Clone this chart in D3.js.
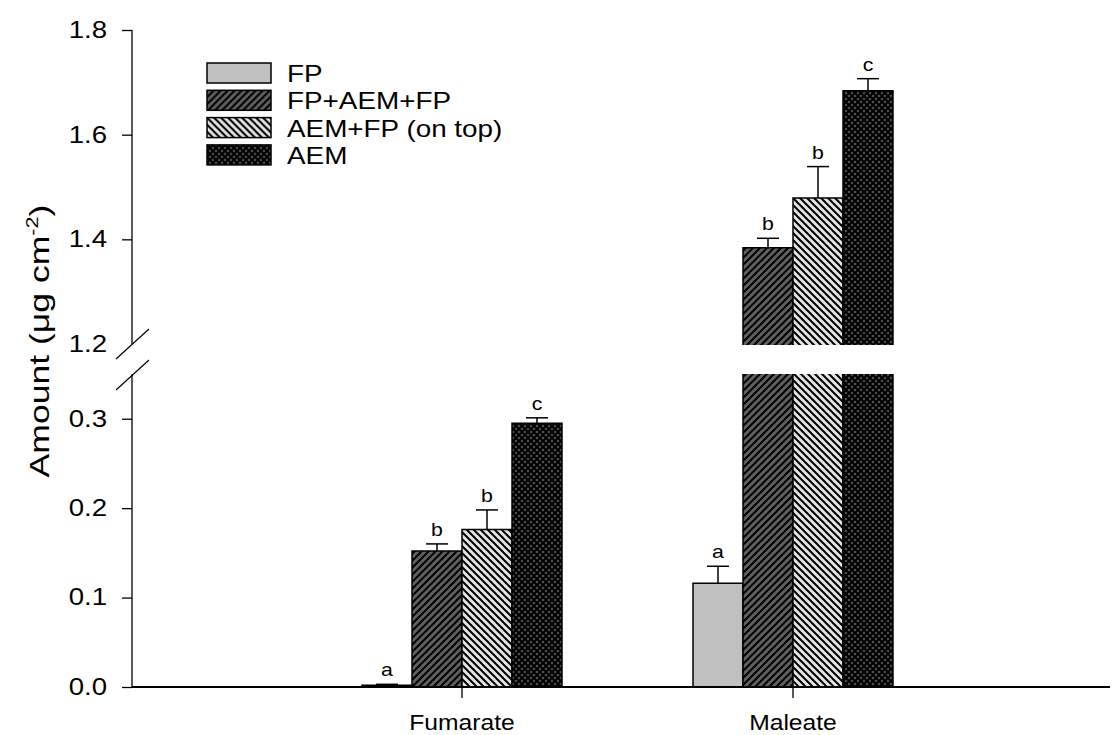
<!DOCTYPE html>
<html>
<head>
<meta charset="utf-8">
<script src="https://cdn.jsdelivr.net/npm/d3@7"></script>
<style>
  html, body { margin: 0; padding: 0; background: #fff; }
  svg { display: block; font-family: Arial, "Liberation Sans", sans-serif; }
</style>
</head>
<body>
<svg id="chart" width="1112" height="735"></svg>
<script>
// Amount of fumarate and maleate per treatment, with standard errors and significance letters
const categories = ["Fumarate", "Maleate"];
const series = ["FP", "FP+AEM+FP", "AEM+FP (on top)", "AEM"];
const fumarateMeans = [0.002, 0.152, 0.176, 0.295];
const fumarateErrors = [0.001, 0.008, 0.022, 0.006];
const fumarateLetters = ["a", "b", "b", "c"];
const maleateMeans = [0.116, 1.384, 1.479, 1.684];
const maleateErrors = [0.019, 0.018, 0.060, 0.023];
const maleateLetters = ["a", "b", "b", "c"];
const lowerTicks = [0.0, 0.1, 0.2, 0.3];
const upperTicks = [1.2, 1.4, 1.6, 1.8];
const lowerDomain = [0, 0.35];
const upperDomain = [1.2, 1.8];

const rows = [
  { cat: categories[0], means: fumarateMeans, errs: fumarateErrors, letters: fumarateLetters },
  { cat: categories[1], means: maleateMeans, errs: maleateErrors, letters: maleateLetters }
];

const svg = d3.select("#chart");
const plotLeft = 132, plotRight = 1110, plotBottom = 687;
const lowTop = 374, highBottom = 344, plotTop = 30;

// the lettering is set in a slightly extended face
function widen(sel, f) {
  sel.each(function () {
    const w = this.getComputedTextLength();
    d3.select(this).attr("textLength", w * f).attr("lengthAdjust", "spacingAndGlyphs");
  });
}

// broken y axis: two linear segments
const yLow = d3.scaleLinear().domain(lowerDomain).range([plotBottom, lowTop]);
const yHigh = d3.scaleLinear().domain(upperDomain).range([highBottom, plotTop]);

const x0 = d3.scalePoint().domain(categories).range([plotLeft + 330, plotLeft + 661]);
const x1 = d3.scaleBand().domain(series).range([-100, 100]).padding(0);

// fill patterns
const defs = svg.append("defs");
function hatch(id, bg, size, paths, sw) {
  const p = defs.append("pattern").attr("id", id)
    .attr("patternUnits", "userSpaceOnUse").attr("width", size).attr("height", size);
  p.append("rect").attr("width", size).attr("height", size).attr("fill", bg);
  paths.forEach(d => p.append("path").attr("d", d).attr("stroke", "#000").attr("stroke-width", sw).attr("fill", "none"));
}
const hs = 7;
hatch("fwd", "#606060", hs, [`M0,${hs} L${hs},0`, `M${-hs/2},${hs/2} L${hs/2},${-hs/2}`, `M${hs/2},${hs*1.5} L${hs*1.5},${hs/2}`], 2);
hatch("back", "#e4e4e4", hs, [`M0,0 L${hs},${hs}`, `M${-hs/2},${hs/2} L${hs/2},${hs*1.5}`, `M${hs/2},${-hs/2} L${hs*1.5},${hs/2}`], 2);
const cs = 6;
hatch("cross", "#555555", cs, [`M0,0 L${cs},${cs}`, `M0,${cs} L${cs},0`, `M${-cs/2},${cs/2} L${cs/2},${cs*1.5}`, `M${cs/2},${-cs/2} L${cs*1.5},${cs/2}`,
  `M${-cs/2},${cs/2} L${cs/2},${-cs/2}`, `M${cs/2},${cs*1.5} L${cs*1.5},${cs/2}`], 2);
const fills = ["#c0c0c0", "url(#fwd)", "url(#back)", "url(#cross)"];

// bars
const gBars = svg.append("g");
rows.forEach(row => {
  series.forEach((name, i) => {
    const v = row.means[i];
    const xl = x0(row.cat) + x1(name);
    const w = x1.bandwidth();
    const xc = xl + w / 2;
    let capY;
    if (v <= lowerDomain[1]) {
      const yt = yLow(v);
      gBars.append("rect").attr("x", xl).attr("y", yt).attr("width", w).attr("height", plotBottom - yt)
        .attr("fill", fills[i]);
      gBars.append("path").attr("d", `M${xl},${plotBottom} V${yt} H${xl + w} V${plotBottom}`)
        .attr("fill", "none").attr("stroke", "#000").attr("stroke-width", 1.5);
      capY = yLow(v + row.errs[i]);
      gBars.append("line").attr("x1", xc).attr("x2", xc).attr("y1", yt).attr("y2", capY).attr("stroke", "#000").attr("stroke-width", 1.5);
    } else {
      // lower piece, cut at the break
      gBars.append("rect").attr("x", xl).attr("y", lowTop).attr("width", w).attr("height", plotBottom - lowTop)
        .attr("fill", fills[i]);
      gBars.append("path").attr("d", `M${xl},${plotBottom} V${lowTop} M${xl + w},${lowTop} V${plotBottom}`)
        .attr("fill", "none").attr("stroke", "#000").attr("stroke-width", 1.5);
      // upper piece
      const yt = yHigh(v);
      const yb = highBottom + 1;
      gBars.append("rect").attr("x", xl).attr("y", yt).attr("width", w).attr("height", yb - yt)
        .attr("fill", fills[i]);
      gBars.append("path").attr("d", `M${xl},${yb} V${yt} H${xl + w} V${yb}`)
        .attr("fill", "none").attr("stroke", "#000").attr("stroke-width", 1.5);
      capY = yHigh(v + row.errs[i]);
      gBars.append("line").attr("x1", xc).attr("x2", xc).attr("y1", yt).attr("y2", capY).attr("stroke", "#000").attr("stroke-width", 1.5);
    }
    gBars.append("line").attr("x1", xc - 11).attr("x2", xc + 11).attr("y1", capY).attr("y2", capY)
      .attr("stroke", "#000").attr("stroke-width", 1.5);
    gBars.append("text").attr("class", "sig").attr("x", xc).attr("y", capY - 8).attr("text-anchor", "middle")
      .attr("font-size", 19).attr("fill", "#000").text(row.letters[i]);
  });
});
widen(gBars.selectAll("text.sig"), 1.12);

// y axis segments
function yAxis(scale, ticks) {
  const g = svg.append("g").attr("transform", `translate(${plotLeft},0)`)
    .call(d3.axisLeft(scale).tickValues(ticks).tickFormat(d3.format(".1f")).tickSize(10).tickPadding(15));
  g.select(".domain").remove();
  g.selectAll(".tick line").attr("stroke", "#000").attr("stroke-width", 1.3);
  g.selectAll(".tick text").attr("font-size", 23).attr("fill", "#000").attr("font-family", "Arial, 'Liberation Sans', sans-serif");
  widen(g.selectAll(".tick text"), 1.2);
  return g;
}
yAxis(yLow, lowerTicks);
const gUp = yAxis(yHigh, upperTicks);
gUp.selectAll(".tick").filter(d => d === 1.2).select("line").remove();

svg.append("line").attr("x1", plotLeft).attr("x2", plotLeft).attr("y1", plotBottom).attr("y2", lowTop)
  .attr("stroke", "#000").attr("stroke-width", 1.3);
svg.append("line").attr("x1", plotLeft).attr("x2", plotLeft).attr("y1", highBottom).attr("y2", plotTop)
  .attr("stroke", "#000").attr("stroke-width", 1.3);
[highBottom, lowTop + 1].forEach(yb => {
  svg.append("line").attr("x1", plotLeft - 16).attr("y1", yb + 15).attr("x2", plotLeft + 17).attr("y2", yb - 15)
    .attr("stroke", "#000").attr("stroke-width", 1.2);
});

// x axis
const gx = svg.append("g").attr("transform", `translate(0,${plotBottom})`);
gx.append("line").attr("x1", plotLeft).attr("x2", plotRight).attr("stroke", "#000").attr("stroke-width", 2);
categories.forEach(cat => {
  gx.append("line").attr("x1", x0(cat)).attr("x2", x0(cat)).attr("y1", 0).attr("y2", 11)
    .attr("stroke", "#000").attr("stroke-width", 1.3);
  gx.append("text").attr("class", "cat").attr("x", x0(cat)).attr("y", 43).attr("text-anchor", "middle")
    .attr("font-size", 22).attr("fill", "#000").text(cat);
});
widen(gx.selectAll("text.cat"), 1.12);

// y title
const yTitle = svg.append("text").attr("transform", "translate(49,341) rotate(-90)")
  .attr("text-anchor", "middle").attr("font-size", 28).attr("fill", "#000");
yTitle.append("tspan").text("Amount (μg cm");
yTitle.append("tspan").attr("font-size", 17).attr("dy", -11).text("-2");
yTitle.append("tspan").attr("dy", 11).text(")");
widen(yTitle, 1.27);

// legend
const lg = svg.append("g").attr("transform", "translate(207,63)");
series.forEach((name, i) => {
  const r = lg.append("g").attr("transform", `translate(0,${i * 27.3})`);
  r.append("rect").attr("width", 64).attr("height", 20).attr("fill", fills[i])
    .attr("stroke", "#000").attr("stroke-width", 1.5);
  r.append("text").attr("class", "leg").attr("x", 80).attr("y", 19).attr("font-size", 24).attr("fill", "#000").text(name);
});
widen(lg.selectAll("text.leg"), 1.16);
</script>
</body>
</html>
